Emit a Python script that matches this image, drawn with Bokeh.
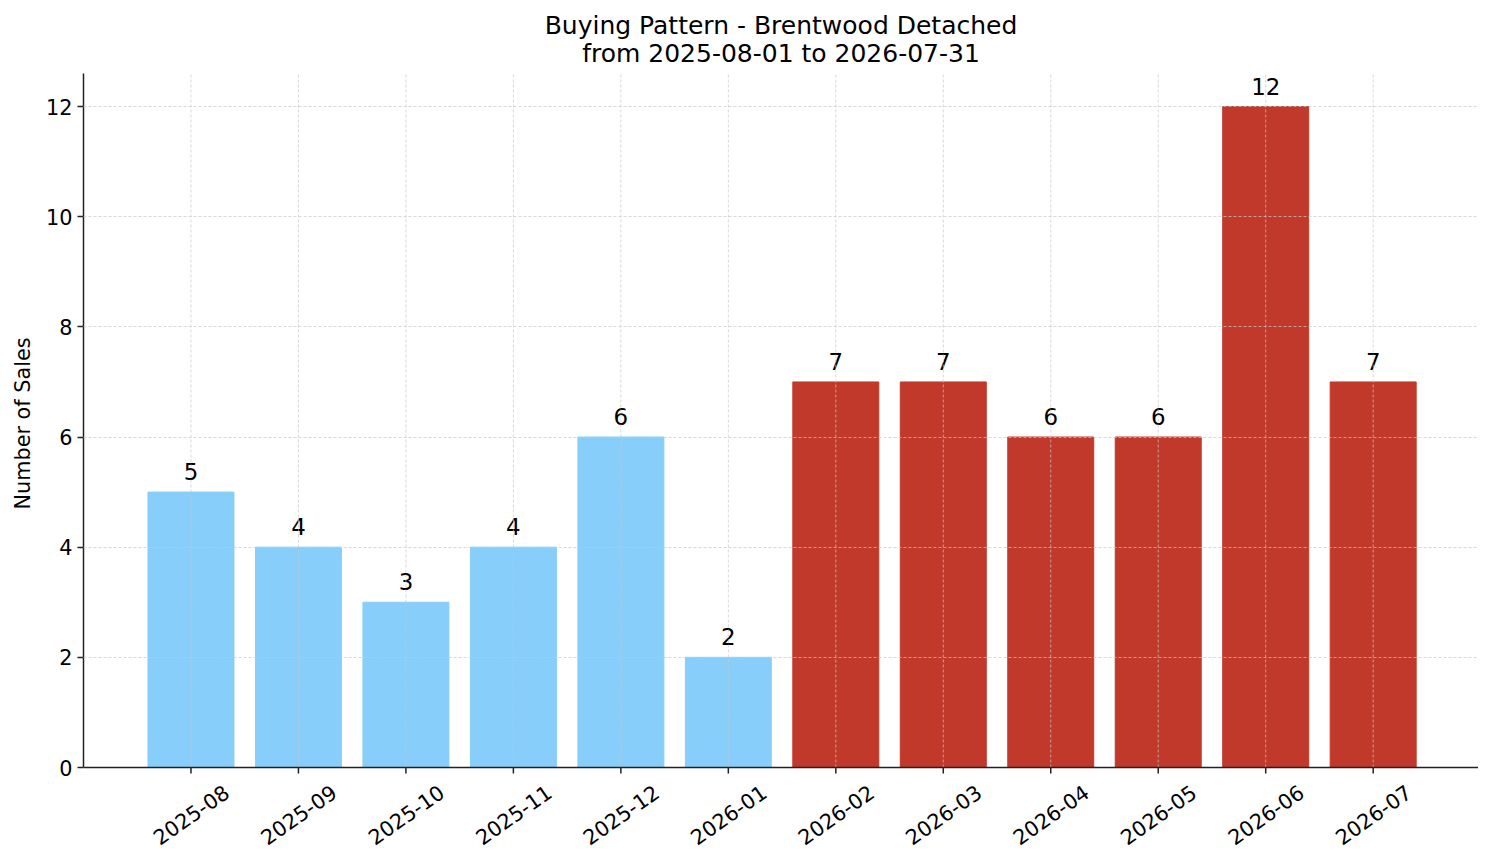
from bokeh.plotting import figure
from bokeh.models import ColumnDataSource, FixedTicker, Range1d, Span
from bokeh.embed import file_html
from bokeh.resources import INLINE

# data
months = ["2025-08", "2025-09", "2025-10", "2025-11", "2025-12", "2026-01",
          "2026-02", "2026-03", "2026-04", "2026-05", "2026-06", "2026-07"]
sales = [5, 4, 3, 4, 6, 2, 7, 7, 6, 6, 12, 7]
colors = ["#87CEFA"] * 6 + ["#C0392B"] * 6
y_ticks = [0, 2, 4, 6, 8, 10, 12]
title_lines = ["Buying Pattern - Brentwood Detached", "from 2025-08-01 to 2026-07-31"]

FONT = "DejaVu Sans"
W, H = 1478, 855
LEFT, BOTTOM = 83, 9
TOP_PX, ZERO_PX = 73, 767    # pixel rows of the axes top and of y = 0
ymax = max(sales) * 1.05
ppu = (ZERO_PX - TOP_PX) / ymax
frame_h = H - BOTTOM
ystart = -(frame_h - ZERO_PX) / ppu
yend = ymax + TOP_PX / ppu
xstart, xend = -1.0, len(months) - 0.02

xs = list(range(len(months)))
source = ColumnDataSource(data=dict(x=xs, top=sales, color=colors,
                                    label=[str(v) for v in sales],
                                    month=months, base=[0] * len(months)))

p = figure(width=W, height=H, output_backend="svg", toolbar_location=None,
           tools="", x_range=Range1d(xstart, xend),
           y_range=Range1d(ystart, yend), x_axis_location=None)
p.min_border_left = LEFT
p.min_border_right = 0
p.min_border_top = 0
p.min_border_bottom = BOTTOM
p.outline_line_color = None
p.background_fill_color = "white"
p.border_fill_color = "white"

# vertical grid lines, from 0 up to the top of the axes
p.segment(x0="x", y0="base", x1="x", y1=ymax, source=source,
          line_color="#c8c8c8", line_alpha=0.7, line_dash="3 2", level="overlay")

p.vbar(x="x", top="top", width=0.8, color="color", source=source)
p.text(x="x", y="top", text="label", source=source, text_align="center",
       text_baseline="bottom", y_offset=-12, text_font_size="22.9px",
       text_font={"value": FONT}, text_color="black")

# bottom spine and ticks
p.add_layout(Span(location=0, dimension="width", line_color="#222222",
                  line_width=1.5, level="overlay"))
p.ray(x="x", y="base", length=6, length_units="screen", angle=-90,
      angle_units="deg", source=source, line_color="#222222", line_width=1.5)

# rotated month labels centred on their ticks
p.text(x="x", y="base", text="month", source=source, angle=35,
       angle_units="deg", text_align="center", text_baseline="middle",
       y_offset=47, text_font_size="20.8px", text_font={"value": FONT},
       text_color="black")

# two-line title centred over the axes box
p.text(x=[(xstart + xend) / 2] * 2, y=[ymax] * 2, text=title_lines,
       y_offset=[-48, -20], text_align="center", text_baseline="middle",
       text_font_size="25px", text_font={"value": FONT}, text_color="black")

ax = p.yaxis[0]
ax.bounds = (0, ymax)
ax.axis_line_color = "#222222"
ax.axis_line_width = 1.5
ax.major_tick_line_color = "#222222"
ax.major_tick_line_width = 1.5
ax.major_tick_out = 6
ax.major_tick_in = 0
ax.minor_tick_line_color = None
ax.major_label_text_font_size = "20.8px"
ax.major_label_text_font = FONT
ax.major_label_text_color = "black"
ax.ticker = FixedTicker(ticks=y_ticks)
ax.axis_label = "Number of Sales"
ax.axis_label_text_font = FONT
ax.axis_label_text_font_size = "20.8px"
ax.axis_label_text_font_style = "normal"
ax.axis_label_text_color = "black"
ax.axis_label_standoff = 8

p.ygrid.ticker = FixedTicker(ticks=y_ticks[1:])
p.ygrid.grid_line_color = "#c8c8c8"
p.ygrid.grid_line_alpha = 0.7
p.ygrid.grid_line_dash = "3 2"
p.ygrid.level = "overlay"
p.xgrid.visible = False

open("out.html", "w").write(file_html(p, INLINE))
